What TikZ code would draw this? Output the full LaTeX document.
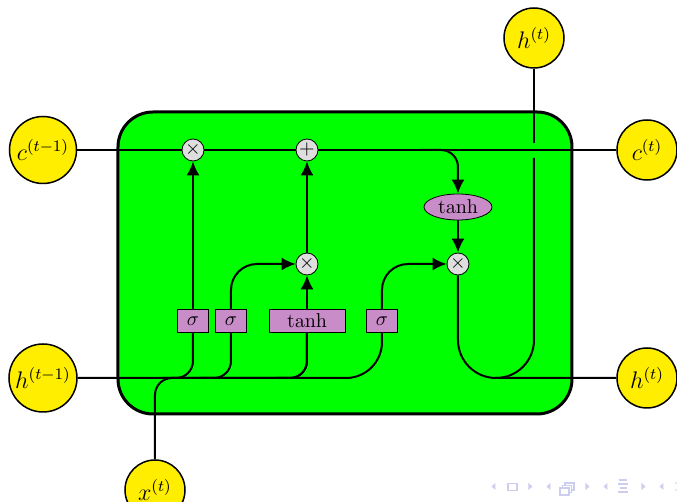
\documentclass[tikz,border=0pt]{standalone}
\usetikzlibrary{arrows.meta,shapes.geometric,calc}
\definecolor{cellgreen}{RGB}{0,255,0}
\definecolor{ioyellow}{RGB}{255,238,0}
\definecolor{gatepurple}{RGB}{200,140,200}
\definecolor{opgray}{RGB}{222,222,222}
\definecolor{navcol}{RGB}{205,205,238}
\begin{document}
\begin{tikzpicture}[x=0.5pt,y=-0.5pt,
  cellbox/.style={draw, rectangle, rounded corners=17.5pt, line width=1.5pt, fill=cellgreen},
  opnode/.style={draw, circle, fill=opgray, minimum size=11pt, inner sep=0pt, line width=0.4pt},
  gatebox/.style={draw, rectangle, fill=gatepurple, minimum width=15.5pt, minimum height=11.5pt, inner sep=0pt, line width=0.4pt},
  funcnode/.style={draw, ellipse, fill=gatepurple, minimum width=34pt, minimum height=13pt, inner sep=0pt, line width=0.4pt},
  ionode/.style={draw, circle, fill=ioyellow, line width=0.75pt, minimum size=30pt, inner sep=0pt, font=\large},
  wire/.style={line width=1pt},
  arr/.style={-{Latex[length=7pt,width=6.5pt]}},
  navtri/.style={fill=navcol, draw=none},
  navbox/.style={draw=navcol, line width=0.6pt, fill=white}
]
\useasboundingbox (0,0) rectangle (677,502);

% cell
\node[cellbox, minimum width=227pt, minimum height=151pt] (cell) at (345,263) {};

% gates
\node[gatebox] (ibox1) at (193,321) {$\sigma$};
\node[gatebox] (ibox2) at (231,321) {$\sigma$};
\node[gatebox, minimum width=38pt] (ibox3) at (307,321) {$\tanh$};
\node[gatebox] (ibox4) at (382,321) {$\sigma$};

% operators
\node[opnode] (mux1) at (193,150) {$\times$};
\node[opnode] (add1) at (307,150) {$+$};
\node[opnode] (mux2) at (307,264) {$\times$};
\node[opnode] (mux3) at (458,264) {$\times$};
\node[funcnode] (func1) at (458,207) {$\tanh$};

% external inputs / outputs
\node[ionode, minimum size=33.5pt] (c) at (43,150) {$c^{(t-1)}$};
\node[ionode, minimum size=34pt] (h) at (43,378) {$h^{(t-1)}$};
\node[ionode] (x) at (155,490) {$x^{(t)}$};
\node[ionode] (c2) at (647,150) {$c^{(t)}$};
\node[ionode] (h2) at (647,378) {$h^{(t)}$};
\node[ionode] (x2) at (534,38) {$h^{(t)}$};

% cell state line
\draw[wire] (c) -- (mux1) -- (add1) -- (c2);

% inputs
\draw[wire, rounded corners=18pt] (h) -| (ibox4);
\coordinate (b1) at ($(h -| ibox1)+(-30,0)$);
\coordinate (b2) at ($(h -| ibox2)+(-30,0)$);
\coordinate (b3) at ($(h -| ibox3)+(-30,0)$);
\draw[wire, rounded corners=8.5pt] (b1) -| (ibox1);
\draw[wire, rounded corners=8.5pt] (b2) -| (ibox2);
\draw[wire, rounded corners=8.5pt] (b3) -| (ibox3);
\draw[wire, rounded corners=8.5pt] (x) -- (x |- h) -| (ibox3);

% internal
\draw[wire, arr] (ibox1) -- (mux1);
\draw[wire, arr, rounded corners=13pt] (ibox2) |- (mux2);
\draw[wire, arr] (ibox3) -- (mux2);
\draw[wire, arr, rounded corners=13pt] (ibox4) |- (mux3);
\draw[wire, arr] (mux2) -- (add1);
\coordinate (fb) at ($(add1 -| func1)+(-38,0)$);
\draw[wire, arr, rounded corners=8.5pt] (fb) -| (func1);
\draw[wire, arr] (func1) -- (mux3);

% outputs
\draw[wire, rounded corners=19pt] (mux3) |- (h2);
\coordinate (i1) at (534,158);
\coordinate (i2) at (534,143);
\coordinate (ob) at ($(h2 -| x2)+(-38,0)$);
\draw[wire, rounded corners=19pt] (ob) -| (i1);
\draw[wire] (i2) -- (x2);

% navigation symbols
\fill[navtri] (495.5,483) -- (491.5,486.5) -- (495.5,490) -- cycle;
\draw[navbox] (508,483.5) rectangle (517,490.5);
\fill[navtri] (528.5,483) -- (532.5,486.5) -- (528.5,490) -- cycle;
\fill[navtri] (550.5,483) -- (546.5,486.5) -- (550.5,490) -- cycle;
\draw[navbox] (565,483) rectangle (574,490);
\draw[navbox] (562.5,485.5) rectangle (571.5,492.5);
\draw[navbox] (560,488) rectangle (569,495);
\fill[navtri] (585.5,483) -- (589.5,486.5) -- (585.5,490) -- cycle;
\fill[navtri] (607.5,483) -- (603.5,486.5) -- (607.5,490) -- cycle;
\draw[navcol, line width=0.6pt] (619,480) -- (627,480) (618,484) -- (628,484) (620,488) -- (627,488) (618,492) -- (628,492);
\fill[navtri] (641.5,483) -- (645.5,486.5) -- (641.5,490) -- cycle;
\fill[navtri] (663.5,483) -- (659.5,486.5) -- (663.5,490) -- cycle;
\fill[navcol] (676,483) circle (0.8) (676,490) circle (0.8);
\end{tikzpicture}
\end{document}
